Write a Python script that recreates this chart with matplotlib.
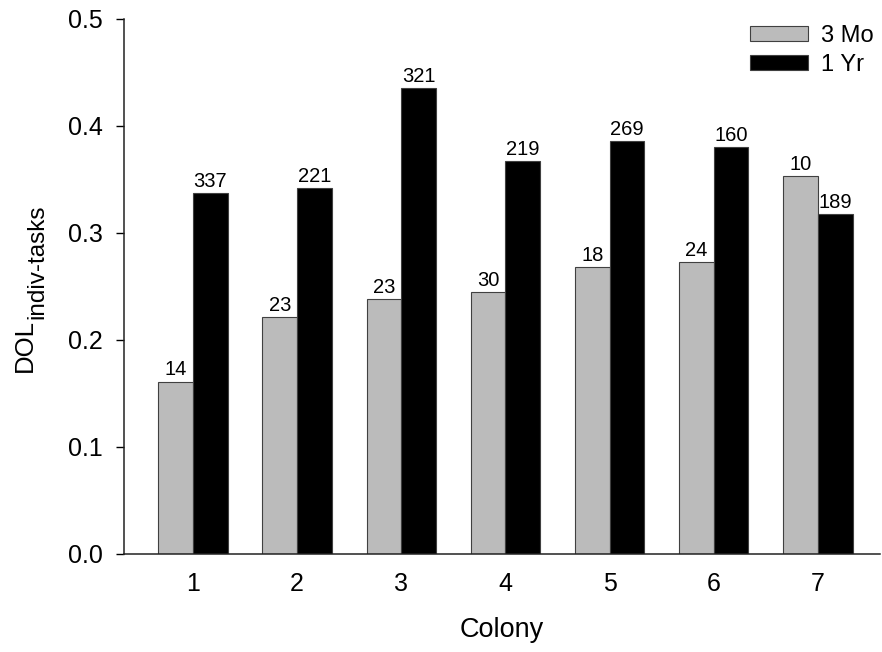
import numpy as np
from matplotlib import pyplot as plt

plt.rcParams['font.family'] = ['Liberation Sans', 'DejaVu Sans']

colonies = ['1', '2', '3', '4', '5', '6', '7']
dol_3mo = [0.161, 0.2215, 0.238, 0.245, 0.268, 0.273, 0.353]
dol_1yr = [0.337, 0.3415, 0.4355, 0.367, 0.386, 0.380, 0.3175]
n_3mo = [14, 23, 23, 30, 18, 24, 10]
n_1yr = [337, 221, 321, 219, 269, 160, 189]

fig = plt.figure(figsize=(8.82, 6.52), dpi=100)
ax = fig.add_axes([0.1406, 0.1508, 0.857, 0.8201])

x = np.arange(1, len(colonies) + 1)
w = 1/3
b1 = ax.bar(x - w/2, dol_3mo, w, color='#bbbbbb', edgecolor='#404040', linewidth=0.8, label='3 Mo')
b2 = ax.bar(x + w/2, dol_1yr, w, color='black', edgecolor='#404040', linewidth=0.8, label='1 Yr')

for bars, counts in [(b1, n_3mo), (b2, n_1yr)]:
    for r, n in zip(bars, counts):
        ax.annotate(str(n), (r.get_x() + r.get_width()/2, r.get_height()),
                    xytext=(0, 1.5), textcoords='offset points',
                    ha='center', va='bottom', fontsize=14.5)

ax.set_xlim(0.338, 7.595)
ax.set_ylim(0, 0.5)
ax.set_xticks(x)
ax.set_xticklabels(colonies)
ax.set_yticks(np.arange(0, 0.51, 0.1))
ax.set_yticklabels(['%.1f' % v for v in np.arange(0, 0.51, 0.1)])
ax.tick_params(axis='x', length=0, pad=13, labelsize=18)
ax.tick_params(axis='y', length=6, width=1, pad=9, labelsize=18)

for s in ['top', 'right']:
    ax.spines[s].set_visible(False)
for s in ['left', 'bottom']:
    ax.spines[s].set_linewidth(1.1)
    ax.spines[s].set_color('#222222')

ax.set_xlabel('Colony', fontsize=19.5, labelpad=15)

# y label: DOL with a large subscript, built from two texts
t1 = fig.text(32/882, 1 - 372/652, 'DOL', rotation=90, rotation_mode='anchor',
              ha='left', va='baseline', fontsize=18.5)
fig.canvas.draw()
bb = t1.get_window_extent()
fig.text(43/882, bb.y1/fig.bbox.height, 'indiv-tasks', rotation=90, rotation_mode='anchor',
         ha='left', va='baseline', fontsize=17.5)

ax.legend(loc='upper left', bbox_to_anchor=(0.850, 0.962), bbox_transform=fig.transFigure,
          frameon=False, fontsize=17, handlelength=2.45, handleheight=0.65,
          handletextpad=0.55, labelspacing=0.3, borderpad=0, borderaxespad=0)

fig.savefig('out.png', dpi=100)
